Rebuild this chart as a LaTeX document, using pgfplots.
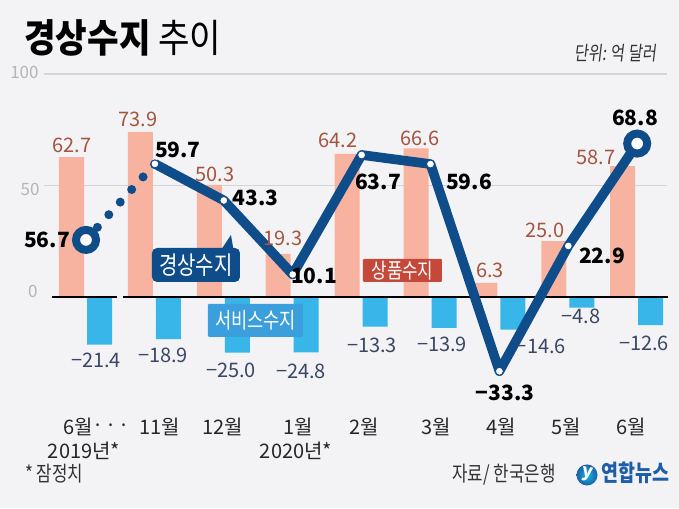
\documentclass[border=0pt]{standalone}
\usepackage{fontspec}
\setmainfont{Noto Sans CJK KR}
\newfontfamily\kc{Noto Sans CJK KR}[FakeStretch=0.8]
\newfontfamily\kct{Noto Sans CJK KR}[FakeStretch=0.88]
\newfontfamily\kci{Noto Sans CJK KR}[FakeStretch=0.78,FakeSlant=0.12]
\usepackage{pgfplots}
\usepackage{pgfplotstable}
\pgfplotsset{compat=1.18}

\definecolor{bgc}{HTML}{F3F3F5}
\definecolor{goods}{HTML}{F7B3A0}
\definecolor{serv}{HTML}{38B6EA}
\definecolor{curr}{HTML}{0F4C8A}
\definecolor{goodstxt}{HTML}{A5553F}
\definecolor{servtxt}{HTML}{3A4763}
\definecolor{goodsbox}{HTML}{C4493A}
\definecolor{servbox}{HTML}{3A9FDC}
\definecolor{gridc}{HTML}{D5D5D8}
\definecolor{tickc}{HTML}{B5B5B5}
\definecolor{yna}{HTML}{1E5DAA}

% position in pixels of the 679x508 picture (1px = 0.5pt)
\newcommand\px[2]{(rel axis cs:#1/679,1-#2/508)}

% 상품수지; dx, dy = label offset in px
\pgfplotstableread{
x y lab dx dy
0 62.7 62.7 0.5 12.2
1 73.9 73.9 -2.4 13.2
2 50.3 50.3 5.7 10.8
3 19.3 19.3 4.8 16
4 64.2 64.2 -9.1 13.8
5 66.6 66.6 4 10.5
6 6.3 6.3 5.1 12.9
7 25.0 25.0 -8.8 11.3
8 58.7 58.7 -26.7 9.1
}\goodstab

% 서비스수지
\pgfplotstableread{
x y lab dx dy
0 -21.4 −21.4 -3.5 -15.3
1 -18.9 −18.9 -5.4 -15.9
2 -25.0 −25.0 -6.3 -17.3
3 -24.8 −24.8 -5.2 -18.7
4 -13.3 −13.3 -3.1 -18.3
5 -13.9 −13.9 -2 -16
6 -14.6 −14.6 28 -17
7 -4.8 −4.8 -0.8 -8.3
8 -12.6 −12.6 -6.7 -17.9
}\servtab

% 경상수지 (first point is drawn lower in the original graphic)
\pgfplotstableread{
x y lab dx dy
0 25.6 56.7 -39 0
1 59.7 59.7 23 13.9
2 43.3 43.3 32 2.4
3 10.1 10.1 21.3 -1.5
4 63.7 63.7 16.4 -27
5 59.6 59.6 38.5 -17.9
6 -33.3 −33.3 5.6 -22
7 22.9 22.9 33.7 -10
8 68.8 68.8 -2.2 25.6
}\currtab

\begin{document}
\begin{tikzpicture}
\begin{axis}[
    width=339.5pt, height=254pt,
    scale only axis,
    clip=false,
    xmin=-1.24819, xmax=8.60668,
    ymin=-94.619, ymax=133.184,
    axis background/.style={fill=bgc},
    axis line style={draw=none},
    major tick style={draw=none},
    ytick=\empty,
    xtick={-0.116,1.074,1.988,3.077,4.035,5.08,6.023,6.966,7.91},
    xticklabels={6월,{\llap{\raisebox{1.3pt}{·\kern0.8pt·\kern0.8pt·}\hspace{5pt}}11월},12월,1월,2월,3월,4월,5월,6월},
    xticklabel style={anchor=base, yshift=36.5pt, inner sep=0pt,
        font=\fontsize{10}{12}\selectfont, text=black!85},
    lbl/.style={
        draw=none, mark=none,
        point meta=explicit symbolic,
        nodes near coords,
        visualization depends on={\thisrow{dx}\as\ldx},
        visualization depends on={\thisrow{dy}\as\ldy},
        every node near coord/.append style={anchor=center, inner sep=0pt,
            xshift=\ldx*0.5pt, yshift=\ldy*0.5pt},
    },
]
% grid lines and y labels
\draw[gridc, line width=0.6pt] (axis cs:-0.6096,100) -- (axis cs:8.4325,100);
\draw[gridc, line width=0.6pt] (axis cs:-0.6096,50) -- (axis cs:8.4325,50);
\begin{scope}[every node/.style={anchor=east, inner sep=0pt, text=tickc,
    font=\fontsize{8.5}{10}\selectfont}]
\node at \px{39}{72} {100};
\node at \px{40}{189} {50};
\node at \px{38}{291} {0};
\end{scope}

% bars
\addplot[ybar, bar width=0.363, bar shift=-0.2104, fill=goods, draw=none]
    table[x=x, y=y] {\goodstab};
\addplot[ybar, bar width=0.363, bar shift=0.196, fill=serv, draw=none]
    table[x=x, y=y] {\servtab};

% zero line with break
\draw[black, line width=0.8pt] (axis cs:-0.4935,0) -- (axis cs:0.4499,0);
\draw[black, line width=0.8pt] (axis cs:0.5370,0) -- (axis cs:8.4470,0);

% current account line
\addplot[curr, line width=4.5pt, line cap=round, dash pattern=on 0pt off 8.5pt]
    table[x=x, y=y] {\currtab};
\addplot[curr, line width=4.8pt, line join=round,
    skip coords between index={0}{1},
    mark=*, mark size=2pt, mark options={fill=white, draw=curr, line width=0.5pt, solid}]
    table[x=x, y=y] {\currtab};
\addplot[only marks, mark=*, mark size=5pt,
    mark options={fill=white, draw=curr, line width=4pt}]
    coordinates {(0,25.6) (8,68.8)};

% value labels
\addplot[lbl, every node near coord/.append style={text=goodstxt,
    font=\fontsize{10}{12}\selectfont}]
    table[x expr=\thisrow{x}-0.2104, y=y, meta=lab] {\goodstab};
\addplot[lbl, every node near coord/.append style={text=servtxt,
    font=\fontsize{10}{12}\selectfont}]
    table[x expr=\thisrow{x}+0.196, y=y, meta=lab] {\servtab};
\addplot[lbl, every node near coord/.append style={text=black,
    font=\bfseries\fontsize{10.5}{12}\selectfont}]
    table[x=x, y=y, meta=lab] {\currtab};

% series tags
\fill[curr] \px{221}{250} -- \px{231}{235} -- \px{233.5}{250} -- cycle;
\node[fill=curr, text=white, rounded corners=2.5pt, inner sep=0pt,
    minimum width=44pt, minimum height=17pt,
    font=\kc\fontsize{12.5}{14}\selectfont] at \px{196}{265} {경상수지};
\node[fill=goodsbox, text=white, rounded corners=0.5pt, inner sep=0pt,
    minimum width=39.5pt, minimum height=11.5pt,
    font=\kc\fontsize{10.5}{12}\selectfont] at \px{402.5}{270.5} {상품수지};
\node[fill=servbox, text=white, rounded corners=0.5pt, inner sep=0pt,
    minimum width=47.5pt, minimum height=16.5pt,
    font=\kc\fontsize{11}{13}\selectfont] at \px{255.5}{320.5} {서비스수지};

% year lines under the month labels
\begin{scope}[every node/.style={anchor=base, inner sep=0pt, text=black!85,
    font=\fontsize{10}{12}\selectfont}]
\node at \px{84}{459} {2019년*};
\node at \px{296}{459} {2020년*};
\end{scope}

% title, unit, notes
\node[anchor=base west, inner sep=0pt, font=\kct\fontsize{19.5}{21}\selectfont]
    at \px{24}{53} {\textbf{경상수지} 추이};
\node[anchor=base east, inner sep=0pt, text=black!80,
    font=\kci\fontsize{9.8}{11}\selectfont] at \px{657}{61} {단위: 억 달러};
\node[anchor=base west, inner sep=0pt, text=black!80,
    font=\kc\fontsize{10.5}{12}\selectfont] at \px{25}{482} {* 잠정치};
\node[anchor=base west, inner sep=0pt, text=black!80,
    font=\kc\fontsize{10.5}{12}\selectfont] at \px{452}{482} {자료/ 한국은행};
\shade[inner color=yna!40!cyan, outer color=yna] \px{587}{475} circle (5.25pt);
\node[text=white, inner sep=0pt, rotate=-10,
    font=\bfseries\fontsize{9}{10}\selectfont] at \px{587}{474} {y};
\node[anchor=base west, inner sep=0pt, text=yna,
    font=\kc\bfseries\fontsize{11.5}{13}\selectfont] at \px{601}{482} {연합뉴스};
\end{axis}
\end{tikzpicture}
\end{document}
